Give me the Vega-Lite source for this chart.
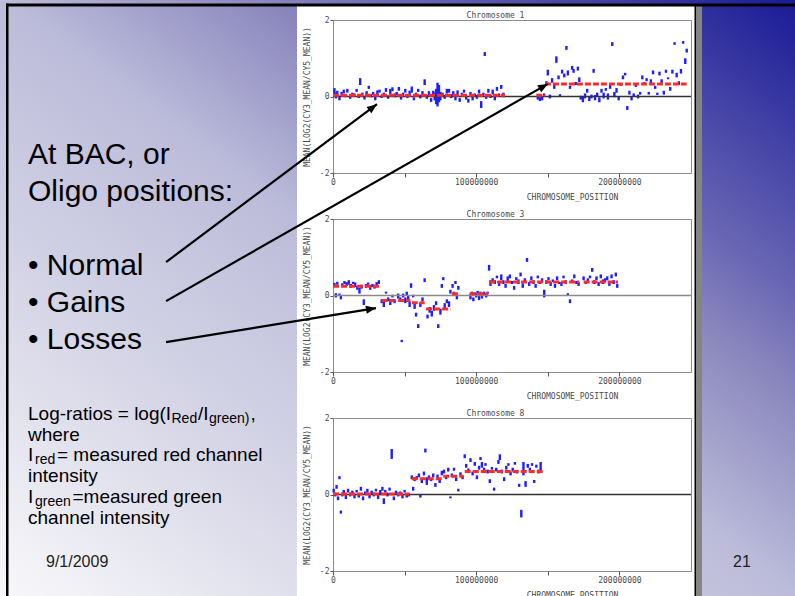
{
  "$schema": "https://vega.github.io/schema/vega-lite/v6.json",
  "background": "white",
  "padding": 0,
  "spacing": 0,
  "bounds": "flush",
  "config": {
    "view": {"stroke": "#8c8c8c", "strokeWidth": 1},
    "axis": {"labelFont": "DejaVu Sans Mono", "labelFontSize": 8, "labelColor": "#4a4a4a", "titleFont": "DejaVu Sans Mono", "titleFontSize": 8, "titleFontWeight": "normal", "titleColor": "#4a4a4a", "domain": false, "grid": false, "tickColor": "#555555", "tickWidth": 1},
    "title": {"font": "DejaVu Sans Mono", "fontSize": 8, "fontWeight": "normal", "color": "#4a4a4a", "offset": 1}
  },
  "datasets": {
    "chr1": [
      {"p":1,"lo":0.05,"hi":0.22},{"p":2,"lo":-0.05,"hi":0.1},{"p":3,"lo":0.0,"hi":0.15},{"p":4.5,"lo":-0.1,"hi":0.02},{"p":6,"lo":0.02,"hi":0.12},
      {"p":7.5,"lo":0.08,"hi":0.18},{"p":9,"lo":-0.02,"hi":0.06},{"p":10,"lo":0.1,"hi":0.2},{"p":12,"lo":-0.06,"hi":0.04},{"p":13.5,"lo":0.04,"hi":0.1},
      {"p":15,"lo":0.0,"hi":0.08},{"p":16.5,"lo":0.12,"hi":0.2},{"p":18,"lo":-0.04,"hi":0.05},{"p":19,"lo":0.3,"hi":0.48},{"p":20.5,"lo":0.02,"hi":0.1},
      {"p":22,"lo":-0.08,"hi":0.02},{"p":23.5,"lo":0.05,"hi":0.14},{"p":25,"lo":0.2,"hi":0.28},{"p":26.5,"lo":-0.02,"hi":0.06},{"p":28,"lo":0.04,"hi":0.12},
      {"p":29.5,"lo":-0.1,"hi":0.0},{"p":31,"lo":0.06,"hi":0.16},{"p":32.5,"lo":0.1,"hi":0.18},{"p":34,"lo":-0.04,"hi":0.04},{"p":35.5,"lo":0.0,"hi":0.1},
      {"p":37,"lo":0.12,"hi":0.22},{"p":38.5,"lo":-0.06,"hi":0.03},{"p":40,"lo":0.05,"hi":0.2},{"p":41.5,"lo":0.14,"hi":0.24},{"p":43,"lo":-0.02,"hi":0.08},
      {"p":44.5,"lo":0.03,"hi":0.12},{"p":46,"lo":0.15,"hi":0.25},{"p":47.5,"lo":-0.08,"hi":0.02},{"p":49,"lo":0.02,"hi":0.1},{"p":50.5,"lo":0.1,"hi":0.2},
      {"p":52,"lo":-0.04,"hi":0.06},{"p":53.5,"lo":0.06,"hi":0.15},{"p":55,"lo":0.1,"hi":0.26},{"p":56.5,"lo":-0.1,"hi":-0.02},{"p":58,"lo":0.0,"hi":0.1},
      {"p":59.5,"lo":0.12,"hi":0.2},{"p":61,"lo":-0.05,"hi":0.05},{"p":62.5,"lo":0.06,"hi":0.14},{"p":64,"lo":0.3,"hi":0.45},{"p":65.5,"lo":-0.06,"hi":0.04},
      {"p":67,"lo":0.02,"hi":0.14},{"p":68.5,"lo":-0.14,"hi":-0.04},{"p":70,"lo":0.05,"hi":0.15},{"p":71,"lo":-0.1,"hi":0.1},{"p":72,"lo":-0.2,"hi":0.2},
      {"p":73,"lo":-0.26,"hi":0.36},{"p":74,"lo":-0.15,"hi":0.3},{"p":75,"lo":-0.1,"hi":0.12},{"p":76.5,"lo":0.0,"hi":0.1},{"p":78,"lo":-0.06,"hi":0.04},
      {"p":79.5,"lo":0.08,"hi":0.2},{"p":81,"lo":0.1,"hi":0.2},{"p":82.5,"lo":-0.04,"hi":0.06},{"p":84,"lo":0.02,"hi":0.14},{"p":85.5,"lo":-0.1,"hi":0.0},
      {"p":87,"lo":0.06,"hi":0.16},{"p":88.5,"lo":-0.14,"hi":-0.04},{"p":90,"lo":0.0,"hi":0.1},{"p":91.5,"lo":0.1,"hi":0.18},{"p":93,"lo":-0.08,"hi":0.02},
      {"p":94.5,"lo":-0.16,"hi":-0.06},{"p":96,"lo":0.04,"hi":0.12},{"p":97.5,"lo":-0.1,"hi":0.02},{"p":99,"lo":0.0,"hi":0.08},{"p":100.5,"lo":-0.06,"hi":0.04},
      {"p":102,"lo":0.08,"hi":0.18},{"p":103.5,"lo":-0.3,"hi":-0.12},{"p":105,"lo":0.02,"hi":0.1},{"p":106,"lo":1.06,"hi":1.16},{"p":107,"lo":-0.06,"hi":0.06},
      {"p":108.5,"lo":0.1,"hi":0.2},{"p":110,"lo":-0.04,"hi":0.04},{"p":111.5,"lo":0.05,"hi":0.18},{"p":113,"lo":-0.1,"hi":0.0},{"p":114.5,"lo":0.15,"hi":0.25},
      {"p":116,"lo":0.02,"hi":0.08},{"p":117.5,"lo":0.2,"hi":0.3},{"p":119,"lo":-0.02,"hi":0.1},
      {"p":143,"lo":-0.08,"hi":0.02},{"p":144.5,"lo":-0.12,"hi":-0.02},{"p":146,"lo":-0.1,"hi":0.0},{"p":147.5,"lo":0.02,"hi":0.08},
      {"p":149,"lo":0.3,"hi":0.4},{"p":150,"lo":0.55,"hi":0.7},{"p":151.5,"lo":-0.05,"hi":0.05},{"p":153,"lo":0.36,"hi":0.48},{"p":154.5,"lo":0.2,"hi":0.3},
      {"p":156,"lo":0.88,"hi":1.05},{"p":157.5,"lo":0.45,"hi":0.55},{"p":158.5,"lo":0.0,"hi":0.06},{"p":160,"lo":0.6,"hi":0.7},{"p":161.5,"lo":0.5,"hi":0.6},
      {"p":163,"lo":1.22,"hi":1.32},{"p":164,"lo":0.55,"hi":0.68},{"p":165.5,"lo":0.2,"hi":0.28},{"p":167,"lo":0.7,"hi":0.8},{"p":168,"lo":0.62,"hi":0.72},
      {"p":169.5,"lo":0.3,"hi":0.38},{"p":171,"lo":0.68,"hi":0.78},{"p":172,"lo":0.38,"hi":0.5},{"p":173,"lo":-0.08,"hi":0.02},{"p":174.5,"lo":-0.15,"hi":0.0},
      {"p":176,"lo":-0.05,"hi":0.08},{"p":177.5,"lo":0.1,"hi":0.2},{"p":179,"lo":-0.12,"hi":0.0},{"p":180.5,"lo":-0.05,"hi":0.05},{"p":182,"lo":0.62,"hi":0.72},
      {"p":183,"lo":-0.1,"hi":0.04},{"p":184.5,"lo":0.0,"hi":0.1},{"p":186,"lo":-0.15,"hi":-0.02},{"p":187.5,"lo":0.1,"hi":0.2},{"p":189,"lo":-0.05,"hi":0.1},
      {"p":190.5,"lo":0.15,"hi":0.22},{"p":192,"lo":-0.08,"hi":0.08},{"p":193.5,"lo":0.2,"hi":0.3},{"p":195,"lo":1.32,"hi":1.42},{"p":196.5,"lo":-0.02,"hi":0.12},
      {"p":198,"lo":0.1,"hi":0.22},{"p":199.5,"lo":-0.1,"hi":0.0},{"p":201,"lo":0.28,"hi":0.35},{"p":202.5,"lo":0.45,"hi":0.55},{"p":204,"lo":0.55,"hi":0.62},
      {"p":205.5,"lo":-0.35,"hi":-0.25},{"p":207,"lo":0.05,"hi":0.15},{"p":208.5,"lo":-0.1,"hi":0.0},{"p":210,"lo":0.0,"hi":0.08},{"p":211.5,"lo":0.25,"hi":0.35},
      {"p":213,"lo":-0.05,"hi":0.05},{"p":214.5,"lo":0.05,"hi":0.12},{"p":216,"lo":0.45,"hi":0.55},{"p":217.5,"lo":0.3,"hi":0.38},{"p":219,"lo":0.4,"hi":0.48},
      {"p":220.5,"lo":0.05,"hi":0.12},{"p":222,"lo":0.35,"hi":0.45},{"p":223.5,"lo":0.58,"hi":0.68},{"p":225,"lo":0.2,"hi":0.28},{"p":226.5,"lo":0.04,"hi":0.1},
      {"p":228,"lo":0.55,"hi":0.65},{"p":229.5,"lo":0.35,"hi":0.45},{"p":231,"lo":0.05,"hi":0.15},{"p":232.5,"lo":0.62,"hi":0.7},{"p":234,"lo":0.45,"hi":0.5},
      {"p":235.5,"lo":0.15,"hi":0.25},{"p":237,"lo":0.6,"hi":0.7},{"p":238.5,"lo":1.35,"hi":1.42},{"p":240,"lo":0.5,"hi":0.62},{"p":241.5,"lo":0.3,"hi":0.4},
      {"p":243,"lo":0.6,"hi":0.72},{"p":244.5,"lo":1.38,"hi":1.45},{"p":246,"lo":0.85,"hi":1.0},{"p":247,"lo":1.15,"hi":1.25}
    ],
    "chr3": [
      {"p":1,"lo":0.25,"hi":0.33},{"p":2,"lo":-0.05,"hi":0.06},{"p":3,"lo":0.28,"hi":0.36},{"p":4.5,"lo":0.0,"hi":0.05},{"p":5.5,"lo":-0.1,"hi":0.0},
      {"p":6.5,"lo":0.22,"hi":0.32},{"p":8,"lo":0.3,"hi":0.38},{"p":9.5,"lo":0.25,"hi":0.35},{"p":11,"lo":0.28,"hi":0.4},{"p":12.5,"lo":0.2,"hi":0.3},
      {"p":14,"lo":0.3,"hi":0.36},{"p":15.5,"lo":0.22,"hi":0.34},{"p":17,"lo":0.15,"hi":0.25},{"p":18.5,"lo":0.05,"hi":0.2},{"p":20,"lo":0.18,"hi":0.28},
      {"p":21.5,"lo":-0.25,"hi":-0.1},{"p":23,"lo":0.2,"hi":0.3},{"p":24.5,"lo":0.28,"hi":0.34},{"p":26,"lo":0.15,"hi":0.25},{"p":27.5,"lo":0.22,"hi":0.3},
      {"p":29,"lo":0.18,"hi":0.28},{"p":30.5,"lo":0.25,"hi":0.35},{"p":32,"lo":0.3,"hi":0.4},
      {"p":34,"lo":-0.2,"hi":-0.1},{"p":35.5,"lo":-0.3,"hi":-0.15},{"p":37,"lo":0.05,"hi":0.1},{"p":38.5,"lo":-0.15,"hi":-0.05},{"p":40,"lo":-0.25,"hi":-0.1},
      {"p":41.5,"lo":-0.05,"hi":0.02},{"p":43,"lo":-0.2,"hi":-0.1},
      {"p":45.5,"lo":-0.08,"hi":0.05},{"p":47,"lo":-0.15,"hi":-0.05},{"p":48,"lo":-1.22,"hi":-1.16},{"p":49,"lo":-0.05,"hi":0.05},{"p":50.5,"lo":-0.2,"hi":-0.05},
      {"p":51.5,"lo":0.0,"hi":0.1},{"p":52.5,"lo":-0.1,"hi":0.0},{"p":53.5,"lo":-0.3,"hi":-0.15},{"p":54.5,"lo":0.2,"hi":0.32},
      {"p":56,"lo":-0.05,"hi":0.02},{"p":57,"lo":-0.35,"hi":-0.2},{"p":58,"lo":-0.55,"hi":-0.45},{"p":59.5,"lo":-0.85,"hi":-0.75},{"p":61,"lo":-0.3,"hi":-0.18},
      {"p":62.5,"lo":-0.15,"hi":-0.05},{"p":64,"lo":0.35,"hi":0.45},
      {"p":66,"lo":-0.6,"hi":-0.5},{"p":67.5,"lo":-0.45,"hi":-0.3},{"p":69,"lo":-0.55,"hi":-0.4},{"p":70.5,"lo":-0.4,"hi":-0.25},{"p":72,"lo":-0.25,"hi":-0.15},
      {"p":73.5,"lo":-0.85,"hi":-0.75},{"p":75,"lo":-0.5,"hi":-0.35},{"p":76,"lo":0.2,"hi":0.3},{"p":77,"lo":0.4,"hi":0.48},{"p":78,"lo":-0.35,"hi":-0.2},
      {"p":79.5,"lo":-0.2,"hi":-0.1},{"p":81,"lo":-0.3,"hi":-0.15},{"p":82,"lo":0.05,"hi":0.15},
      {"p":83.5,"lo":0.2,"hi":0.3},{"p":84.5,"lo":0.0,"hi":0.1},{"p":85.5,"lo":0.3,"hi":0.38},{"p":86.5,"lo":-0.1,"hi":0.0},{"p":87.5,"lo":0.15,"hi":0.25},
      {"p":96,"lo":-0.1,"hi":0.05},{"p":97,"lo":0.02,"hi":0.1},{"p":98,"lo":-0.15,"hi":-0.05},{"p":99,"lo":0.0,"hi":0.08},{"p":100,"lo":-0.05,"hi":0.06},
      {"p":101,"lo":0.05,"hi":0.12},{"p":102,"lo":-0.12,"hi":0.0},{"p":103,"lo":0.0,"hi":0.1},{"p":104,"lo":-0.08,"hi":0.04},{"p":105.5,"lo":0.02,"hi":0.1},
      {"p":107,"lo":-0.05,"hi":0.05},{"p":108,"lo":0.05,"hi":0.1},
      {"p":109,"lo":0.65,"hi":0.8},{"p":110,"lo":0.25,"hi":0.4},{"p":111.5,"lo":0.35,"hi":0.45},{"p":113,"lo":0.3,"hi":0.4},{"p":114.5,"lo":0.45,"hi":0.52},
      {"p":116,"lo":0.25,"hi":0.35},{"p":117.5,"lo":0.4,"hi":0.55},{"p":119,"lo":0.3,"hi":0.4},{"p":120.5,"lo":0.2,"hi":0.3},{"p":122,"lo":0.35,"hi":0.5},
      {"p":123.5,"lo":0.45,"hi":0.55},{"p":125,"lo":0.3,"hi":0.38},{"p":126.5,"lo":0.15,"hi":0.25},{"p":128,"lo":0.4,"hi":0.48},{"p":129.5,"lo":0.3,"hi":0.42},
      {"p":131,"lo":0.5,"hi":0.6},{"p":132.5,"lo":0.2,"hi":0.32},{"p":134,"lo":0.35,"hi":0.45},{"p":135.5,"lo":0.88,"hi":0.98},{"p":137,"lo":0.25,"hi":0.35},
      {"p":138.5,"lo":0.4,"hi":0.5},{"p":140,"lo":0.3,"hi":0.4},{"p":141.5,"lo":0.2,"hi":0.3},{"p":143,"lo":0.45,"hi":0.52},{"p":144.5,"lo":0.3,"hi":0.36},
      {"p":146,"lo":0.35,"hi":0.45},{"p":147.5,"lo":-0.05,"hi":0.15},{"p":149,"lo":0.3,"hi":0.4},{"p":150.5,"lo":0.4,"hi":0.48},{"p":152,"lo":0.25,"hi":0.35},
      {"p":153.5,"lo":0.35,"hi":0.42},{"p":155,"lo":0.2,"hi":0.3},{"p":156.5,"lo":0.4,"hi":0.5},{"p":158,"lo":0.3,"hi":0.36},{"p":159.5,"lo":0.25,"hi":0.35},
      {"p":161,"lo":0.45,"hi":0.52},{"p":162.5,"lo":0.3,"hi":0.4},{"p":164,"lo":0.0,"hi":0.06},{"p":165.5,"lo":-0.2,"hi":-0.1},{"p":167,"lo":0.35,"hi":0.42},
      {"p":168.5,"lo":0.45,"hi":0.55},{"p":170,"lo":0.3,"hi":0.38},{"p":171.5,"lo":0.25,"hi":0.35},
      {"p":175,"lo":0.4,"hi":0.5},{"p":176.5,"lo":0.3,"hi":0.38},{"p":178,"lo":0.35,"hi":0.45},{"p":179.5,"lo":0.45,"hi":0.52},{"p":181,"lo":0.62,"hi":0.72},
      {"p":182.5,"lo":0.3,"hi":0.4},{"p":184,"lo":0.4,"hi":0.5},{"p":185.5,"lo":0.25,"hi":0.35},{"p":187,"lo":0.45,"hi":0.55},{"p":188.5,"lo":0.3,"hi":0.42},
      {"p":190,"lo":0.35,"hi":0.45},{"p":191.5,"lo":0.4,"hi":0.5},{"p":193,"lo":0.25,"hi":0.35},{"p":194.5,"lo":0.45,"hi":0.55},{"p":196,"lo":0.3,"hi":0.4},
      {"p":197.5,"lo":0.5,"hi":0.6},{"p":198.5,"lo":0.2,"hi":0.3}
    ],
    "chr8": [
      {"p":0.5,"lo":0.05,"hi":0.15},{"p":1.5,"lo":-0.05,"hi":0.05},{"p":2.5,"lo":0.15,"hi":0.25},{"p":3.5,"lo":-0.15,"hi":-0.05},{"p":4.5,"lo":0.4,"hi":0.48},
      {"p":5.5,"lo":-0.5,"hi":-0.42},{"p":6.5,"lo":-0.05,"hi":0.05},{"p":7.5,"lo":0.02,"hi":0.12},{"p":9,"lo":-0.12,"hi":0.0},{"p":10.5,"lo":0.05,"hi":0.15},
      {"p":12,"lo":-0.05,"hi":0.05},{"p":13.5,"lo":0.0,"hi":0.1},{"p":15,"lo":-0.1,"hi":0.02},{"p":16.5,"lo":0.05,"hi":0.12},{"p":18,"lo":-0.08,"hi":0.02},
      {"p":19.5,"lo":0.1,"hi":0.2},{"p":21,"lo":-0.15,"hi":-0.05},{"p":22.5,"lo":0.0,"hi":0.08},{"p":24,"lo":0.05,"hi":0.15},{"p":25.5,"lo":-0.1,"hi":0.0},
      {"p":27,"lo":0.02,"hi":0.1},{"p":28.5,"lo":-0.05,"hi":0.05},{"p":30,"lo":0.08,"hi":0.15},{"p":31.5,"lo":-0.12,"hi":0.0},{"p":33,"lo":0.0,"hi":0.12},
      {"p":34.5,"lo":0.1,"hi":0.2},{"p":35.5,"lo":-0.25,"hi":-0.1},{"p":36.5,"lo":0.05,"hi":0.12},{"p":38,"lo":-0.05,"hi":0.05},{"p":39.5,"lo":0.1,"hi":0.18},
      {"p":41,"lo":0.93,"hi":1.19},{"p":42.5,"lo":-0.15,"hi":-0.05},{"p":44,"lo":0.02,"hi":0.1},{"p":45.5,"lo":-0.05,"hi":0.05},{"p":47,"lo":0.0,"hi":0.08},
      {"p":48.5,"lo":-0.1,"hi":0.0},{"p":50,"lo":0.05,"hi":0.12},{"p":51.5,"lo":-0.08,"hi":0.02},{"p":53,"lo":-0.05,"hi":0.04},
      {"p":55,"lo":0.4,"hi":0.5},{"p":56,"lo":0.1,"hi":0.2},{"p":57,"lo":0.35,"hi":0.45},{"p":58.5,"lo":0.4,"hi":0.48},{"p":60,"lo":0.45,"hi":0.55},
      {"p":61,"lo":-0.08,"hi":0.0},{"p":62,"lo":0.3,"hi":0.42},{"p":63.5,"lo":0.5,"hi":0.6},{"p":64.5,"lo":1.1,"hi":1.2},{"p":65.5,"lo":0.25,"hi":0.45},
      {"p":67,"lo":0.4,"hi":0.5},{"p":68.5,"lo":0.35,"hi":0.42},{"p":70,"lo":0.45,"hi":0.55},{"p":71.5,"lo":0.2,"hi":0.3},{"p":73,"lo":0.4,"hi":0.52},
      {"p":74.5,"lo":0.3,"hi":0.4},{"p":76,"lo":0.5,"hi":0.62},
      {"p":77.5,"lo":0.55,"hi":0.65},{"p":79,"lo":0.4,"hi":0.5},{"p":80.5,"lo":0.6,"hi":0.7},{"p":82,"lo":-0.1,"hi":-0.05},{"p":83,"lo":0.45,"hi":0.55},
      {"p":84.5,"lo":0.62,"hi":0.7},{"p":86,"lo":0.35,"hi":0.45},{"p":87.5,"lo":0.08,"hi":0.15},{"p":89,"lo":0.5,"hi":0.58},{"p":90.5,"lo":0.4,"hi":0.5},
      {"p":92,"lo":0.95,"hi":1.05},{"p":93,"lo":0.7,"hi":0.8},{"p":94.5,"lo":0.6,"hi":0.68},{"p":96,"lo":0.85,"hi":0.95},{"p":97.5,"lo":0.5,"hi":0.6},
      {"p":99,"lo":0.75,"hi":0.85},{"p":100.5,"lo":0.4,"hi":0.5},{"p":102,"lo":0.65,"hi":0.75},{"p":103,"lo":0.9,"hi":0.98},{"p":104,"lo":0.7,"hi":0.85},
      {"p":105.5,"lo":0.6,"hi":0.7},{"p":106.5,"lo":0.75,"hi":0.82},{"p":108,"lo":0.55,"hi":0.65},{"p":109.5,"lo":0.3,"hi":0.4},{"p":111,"lo":0.65,"hi":0.72},
      {"p":112.5,"lo":0.1,"hi":0.18},{"p":114,"lo":0.6,"hi":0.7},{"p":115.5,"lo":0.8,"hi":0.9},{"p":116.5,"lo":0.9,"hi":1.05},{"p":118,"lo":0.55,"hi":0.65},
      {"p":119.5,"lo":0.35,"hi":0.45},{"p":121,"lo":0.65,"hi":0.75},{"p":122.5,"lo":0.75,"hi":0.82},{"p":124,"lo":0.5,"hi":0.6},{"p":125.5,"lo":0.6,"hi":0.7},
      {"p":127,"lo":0.78,"hi":0.85},{"p":128.5,"lo":0.55,"hi":0.62},{"p":130,"lo":0.2,"hi":0.28},{"p":131.5,"lo":-0.6,"hi":-0.4},{"p":133,"lo":0.5,"hi":0.85},
      {"p":134.5,"lo":0.2,"hi":0.35},{"p":136,"lo":0.7,"hi":0.8},{"p":137.5,"lo":0.6,"hi":0.7},{"p":139,"lo":0.75,"hi":0.82},{"p":140.5,"lo":0.3,"hi":0.38},
      {"p":142,"lo":0.7,"hi":0.78},{"p":143.5,"lo":0.55,"hi":0.65},{"p":145,"lo":0.6,"hi":0.85}
    ],
    "seg1": [{"s":0,"e":120,"m":0.03},{"s":142,"e":148,"m":0.03},{"s":148,"e":247,"m":0.33}],
    "seg3": [{"s":0,"e":33,"m":0.245},{"s":34,"e":43,"m":-0.13},{"s":45.5,"e":54,"m":-0.13},{"s":55,"e":64,"m":-0.19},{"s":65,"e":82,"m":-0.35},{"s":83,"e":87.5,"m":0.045},{"s":95.5,"e":108.5,"m":0.045},{"s":109,"e":172,"m":0.35},{"s":175,"e":199,"m":0.35}],
    "seg8": [{"s":0,"e":53.5,"m":0.01},{"s":55,"e":76,"m":0.41},{"s":77,"e":91,"m":0.48},{"s":92,"e":147,"m":0.6}],
    "arrows": [
      {"chr":1,"label":"Normal","p0":-116.6,"v0":-4.33,"p":30.7,"v":-0.2},
      {"chr":1,"label":"Gains","p0":-116.6,"v0":-5.35,"p":150.1,"v":0.33},
      {"chr":3,"label":"Losses","p0":-116.6,"v0":-1.22,"p":30.0,"v":-0.33}
    ]
  },
  "hconcat": [
    {
      "width": 333,
      "height": 576,
      "view": {"stroke": null},
      "data": {"values": [{}]},
      "layer": [
        {"mark": {"type": "rect", "color": {"gradient": "linear", "x1": 1, "y1": 0, "x2": 0, "y2": 1, "stops": [{"offset": 0, "color": "#1a1a96"}, {"offset": 0.25, "color": "#6a68b4"}, {"offset": 0.33, "color": "#8a86bd"}, {"offset": 0.5, "color": "#bcbcda"}, {"offset": 0.75, "color": "#d8d8e8"}, {"offset": 1, "color": "#f8f8fa"}]}},
         "encoding": {"x": {"datum": 0, "type": "quantitative", "scale": {"domain": [0, 333], "nice": false, "zero": false}, "axis": null}, "x2": {"datum": 795},
                      "y": {"datum": 0, "type": "quantitative", "scale": {"domain": [20, 596], "reverse": true, "nice": false, "zero": false}, "axis": null}, "y2": {"datum": 596}}},
        {"mark": {"type": "rect", "color": "white"},
         "encoding": {"x": {"datum": 297, "type": "quantitative", "scale": {"domain": [0, 333], "nice": false, "zero": false}, "axis": null}, "x2": {"datum": 695},
                      "y": {"datum": 6, "type": "quantitative", "scale": {"domain": [20, 596], "reverse": true, "nice": false, "zero": false}, "axis": null}, "y2": {"datum": 596}}},
        {"mark": {"type": "rect", "color": "#858585"},
         "encoding": {"x": {"datum": 696, "type": "quantitative", "scale": {"domain": [0, 333], "nice": false, "zero": false}, "axis": null}, "x2": {"datum": 702},
                      "y": {"datum": 6, "type": "quantitative", "scale": {"domain": [20, 596], "reverse": true, "nice": false, "zero": false}, "axis": null}, "y2": {"datum": 596}}},
        {"mark": {"type": "rect", "color": "black"},
         "encoding": {"x": {"datum": 694.5, "type": "quantitative", "scale": {"domain": [0, 333], "nice": false, "zero": false}, "axis": null}, "x2": {"datum": 696},
                      "y": {"datum": 4, "type": "quantitative", "scale": {"domain": [20, 596], "reverse": true, "nice": false, "zero": false}, "axis": null}, "y2": {"datum": 596}}},
        {"mark": {"type": "rect", "color": "black"},
         "encoding": {"x": {"datum": 6, "type": "quantitative", "scale": {"domain": [0, 333], "nice": false, "zero": false}, "axis": null}, "x2": {"datum": 795},
                      "y": {"datum": 3.5, "type": "quantitative", "scale": {"domain": [20, 596], "reverse": true, "nice": false, "zero": false}, "axis": null}, "y2": {"datum": 6.5}}},
        {"mark": {"type": "rect", "color": "black"},
         "encoding": {"x": {"datum": 6, "type": "quantitative", "scale": {"domain": [0, 333], "nice": false, "zero": false}, "axis": null}, "x2": {"datum": 8.5},
                      "y": {"datum": 3.5, "type": "quantitative", "scale": {"domain": [20, 596], "reverse": true, "nice": false, "zero": false}, "axis": null}, "y2": {"datum": 596}}},
        {"mark": {"type": "text", "align": "left", "baseline": "alphabetic", "font": "Liberation Sans", "fontSize": 30, "lineHeight": 37, "color": "black",
                  "text": ["At BAC, or", "Oligo positions:"]},
         "encoding": {"x": {"datum": 28, "type": "quantitative", "scale": {"domain": [0, 333], "nice": false, "zero": false}, "axis": null},
                      "y": {"datum": 164, "type": "quantitative", "scale": {"domain": [20, 596], "reverse": true, "nice": false, "zero": false}, "axis": null}}},
        {"mark": {"type": "text", "align": "left", "baseline": "alphabetic", "font": "Liberation Sans", "fontSize": 30, "lineHeight": 37, "color": "black",
                  "text": ["• Normal", "• Gains", "• Losses"]},
         "encoding": {"x": {"datum": 28, "type": "quantitative", "scale": {"domain": [0, 333], "nice": false, "zero": false}, "axis": null},
                      "y": {"datum": 275, "type": "quantitative", "scale": {"domain": [20, 596], "reverse": true, "nice": false, "zero": false}, "axis": null}}},
        {"mark": {"type": "text", "align": "left", "baseline": "alphabetic", "font": "Liberation Sans", "fontSize": 19, "color": "black", "text": "Log-ratios = log(I"},
         "encoding": {"x": {"datum": 28, "type": "quantitative", "scale": {"domain": [0, 333], "nice": false, "zero": false}, "axis": null},
                      "y": {"datum": 420, "type": "quantitative", "scale": {"domain": [20, 596], "reverse": true, "nice": false, "zero": false}, "axis": null}}},
        {"mark": {"type": "text", "align": "left", "baseline": "alphabetic", "font": "Liberation Sans", "fontSize": 19, "color": "black", "text": "where"},
         "encoding": {"x": {"datum": 28, "type": "quantitative", "scale": {"domain": [0, 333], "nice": false, "zero": false}, "axis": null},
                      "y": {"datum": 440.7, "type": "quantitative", "scale": {"domain": [20, 596], "reverse": true, "nice": false, "zero": false}, "axis": null}}},
        {"mark": {"type": "text", "align": "left", "baseline": "alphabetic", "font": "Liberation Sans", "fontSize": 19, "color": "black", "text": "I"},
         "encoding": {"x": {"datum": 28, "type": "quantitative", "scale": {"domain": [0, 333], "nice": false, "zero": false}, "axis": null},
                      "y": {"datum": 461.4, "type": "quantitative", "scale": {"domain": [20, 596], "reverse": true, "nice": false, "zero": false}, "axis": null}}},
        {"mark": {"type": "text", "align": "left", "baseline": "alphabetic", "font": "Liberation Sans", "fontSize": 19, "color": "black", "text": "intensity"},
         "encoding": {"x": {"datum": 28, "type": "quantitative", "scale": {"domain": [0, 333], "nice": false, "zero": false}, "axis": null},
                      "y": {"datum": 482.1, "type": "quantitative", "scale": {"domain": [20, 596], "reverse": true, "nice": false, "zero": false}, "axis": null}}},
        {"mark": {"type": "text", "align": "left", "baseline": "alphabetic", "font": "Liberation Sans", "fontSize": 19, "color": "black", "text": "I"},
         "encoding": {"x": {"datum": 28, "type": "quantitative", "scale": {"domain": [0, 333], "nice": false, "zero": false}, "axis": null},
                      "y": {"datum": 502.8, "type": "quantitative", "scale": {"domain": [20, 596], "reverse": true, "nice": false, "zero": false}, "axis": null}}},
        {"mark": {"type": "text", "align": "left", "baseline": "alphabetic", "font": "Liberation Sans", "fontSize": 19, "color": "black", "text": "channel intensity"},
         "encoding": {"x": {"datum": 28, "type": "quantitative", "scale": {"domain": [0, 333], "nice": false, "zero": false}, "axis": null},
                      "y": {"datum": 523.5, "type": "quantitative", "scale": {"domain": [20, 596], "reverse": true, "nice": false, "zero": false}, "axis": null}}},
        {"mark": {"type": "text", "align": "left", "baseline": "alphabetic", "font": "Liberation Sans", "fontSize": 14, "color": "black", "text": "Red"},
         "encoding": {"x": {"datum": 171.5, "type": "quantitative", "scale": {"domain": [0, 333], "nice": false, "zero": false}, "axis": null},
                      "y": {"datum": 423, "type": "quantitative", "scale": {"domain": [20, 596], "reverse": true, "nice": false, "zero": false}, "axis": null}}},
        {"mark": {"type": "text", "align": "left", "baseline": "alphabetic", "font": "Liberation Sans", "fontSize": 19, "color": "black", "text": "/I"},
         "encoding": {"x": {"datum": 198, "type": "quantitative", "scale": {"domain": [0, 333], "nice": false, "zero": false}, "axis": null},
                      "y": {"datum": 420, "type": "quantitative", "scale": {"domain": [20, 596], "reverse": true, "nice": false, "zero": false}, "axis": null}}},
        {"mark": {"type": "text", "align": "left", "baseline": "alphabetic", "font": "Liberation Sans", "fontSize": 14, "color": "black", "text": "green)"},
         "encoding": {"x": {"datum": 209, "type": "quantitative", "scale": {"domain": [0, 333], "nice": false, "zero": false}, "axis": null},
                      "y": {"datum": 423, "type": "quantitative", "scale": {"domain": [20, 596], "reverse": true, "nice": false, "zero": false}, "axis": null}}},
        {"mark": {"type": "text", "align": "left", "baseline": "alphabetic", "font": "Liberation Sans", "fontSize": 19, "color": "black", "text": ","},
         "encoding": {"x": {"datum": 250.5, "type": "quantitative", "scale": {"domain": [0, 333], "nice": false, "zero": false}, "axis": null},
                      "y": {"datum": 420, "type": "quantitative", "scale": {"domain": [20, 596], "reverse": true, "nice": false, "zero": false}, "axis": null}}},
        {"mark": {"type": "text", "align": "left", "baseline": "alphabetic", "font": "Liberation Sans", "fontSize": 14, "color": "black", "text": "red"},
         "encoding": {"x": {"datum": 35, "type": "quantitative", "scale": {"domain": [0, 333], "nice": false, "zero": false}, "axis": null},
                      "y": {"datum": 464.4, "type": "quantitative", "scale": {"domain": [20, 596], "reverse": true, "nice": false, "zero": false}, "axis": null}}},
        {"mark": {"type": "text", "align": "left", "baseline": "alphabetic", "font": "Liberation Sans", "fontSize": 19, "color": "black", "text": "= measured red channel"},
         "encoding": {"x": {"datum": 57, "type": "quantitative", "scale": {"domain": [0, 333], "nice": false, "zero": false}, "axis": null},
                      "y": {"datum": 461.4, "type": "quantitative", "scale": {"domain": [20, 596], "reverse": true, "nice": false, "zero": false}, "axis": null}}},
        {"mark": {"type": "text", "align": "left", "baseline": "alphabetic", "font": "Liberation Sans", "fontSize": 14, "color": "black", "text": "green"},
         "encoding": {"x": {"datum": 35, "type": "quantitative", "scale": {"domain": [0, 333], "nice": false, "zero": false}, "axis": null},
                      "y": {"datum": 505.8, "type": "quantitative", "scale": {"domain": [20, 596], "reverse": true, "nice": false, "zero": false}, "axis": null}}},
        {"mark": {"type": "text", "align": "left", "baseline": "alphabetic", "font": "Liberation Sans", "fontSize": 19, "color": "black", "text": "=measured green"},
         "encoding": {"x": {"datum": 72.5, "type": "quantitative", "scale": {"domain": [0, 333], "nice": false, "zero": false}, "axis": null},
                      "y": {"datum": 502.8, "type": "quantitative", "scale": {"domain": [20, 596], "reverse": true, "nice": false, "zero": false}, "axis": null}}},
        {"mark": {"type": "text", "align": "left", "baseline": "alphabetic", "font": "Liberation Sans", "fontSize": 16, "color": "#222222", "text": "9/1/2009"},
         "encoding": {"x": {"datum": 46, "type": "quantitative", "scale": {"domain": [0, 333], "nice": false, "zero": false}, "axis": null},
                      "y": {"datum": 567, "type": "quantitative", "scale": {"domain": [20, 596], "reverse": true, "nice": false, "zero": false}, "axis": null}}},
        {"mark": {"type": "text", "align": "left", "baseline": "alphabetic", "font": "Liberation Sans", "fontSize": 16, "color": "#222222", "text": "21"},
         "encoding": {"x": {"datum": 733, "type": "quantitative", "scale": {"domain": [0, 333], "nice": false, "zero": false}, "axis": null},
                      "y": {"datum": 567, "type": "quantitative", "scale": {"domain": [20, 596], "reverse": true, "nice": false, "zero": false}, "axis": null}}}
      ]
    },
    {
      "spacing": 46,
      "bounds": "flush",
      "vconcat": [
        {
          "width": 358, "height": 153,
          "title": {"text": "Chromosome 1", "dx": -16.5, "dy": 5},
          "layer": [
            {"data": {"name": "chr1"}, "mark": {"type": "rule", "color": "#1e1eff", "strokeWidth": 2.4},
             "encoding": {
               "x": {"field": "p", "type": "quantitative", "scale": {"domain": [0, 250], "nice": false, "zero": false},
                     "axis": {"title": "CHROMOSOME_POSITION", "values": [0, 50, 100, 150, 200], "labelExpr": "datum.value == 0 ? '0' : (datum.value % 100 == 0 ? datum.value + '000000' : '')", "labelFlush": false, "labelOverlap": false, "tickSize": 4, "labelPadding": 1, "titlePadding": 7, "titleX": 239}},
               "y": {"field": "lo", "type": "quantitative", "scale": {"domain": [-2, 2], "nice": false, "zero": false},
                     "axis": {"title": "MEAN(LOG2(CY3_MEAN/CY5_MEAN))", "values": [-2, -1, 0, 1, 2], "labelExpr": "datum.value + ''", "tickSize": 3, "labelPadding": 1, "titlePadding": 8}},
               "y2": {"field": "hi"}}},
            {"data": {"values": [{}]}, "mark": {"type": "rule", "color": "#333333", "strokeWidth": 1.5},
             "encoding": {"x": {"datum": 0, "type": "quantitative"}, "x2": {"datum": 250}, "y": {"datum": 0, "type": "quantitative"}}},
            {"data": {"name": "seg1"}, "mark": {"type": "rule", "color": "#ff2a2a", "strokeWidth": 3, "strokeDash": [6, 2]},
             "encoding": {"x": {"field": "s", "type": "quantitative"}, "x2": {"field": "e"}, "y": {"field": "m", "type": "quantitative"}}},
            {"data": {"name": "arrows"}, "transform": [{"filter": "datum.chr == 1"}], "mark": {"type": "rule", "color": "black", "strokeWidth": 2.2, "clip": false},
             "encoding": {"x": {"field": "p0", "type": "quantitative"}, "x2": {"field": "p"}, "y": {"field": "v0", "type": "quantitative"}, "y2": {"field": "v"}}},
            {"data": {"name": "arrows"}, "transform": [{"filter": "datum.label == 'Normal'"}], "mark": {"type": "point", "shape": "M0,0L-0.8,2L0.8,2Z", "size": 100, "filled": true, "color": "black", "opacity": 1, "angle": 53.2, "clip": false},
             "encoding": {"x": {"field": "p", "type": "quantitative"}, "y": {"field": "v", "type": "quantitative"}}},
            {"data": {"name": "arrows"}, "transform": [{"filter": "datum.label == 'Gains'"}], "mark": {"type": "point", "shape": "M0,0L-0.8,2L0.8,2Z", "size": 100, "filled": true, "color": "black", "opacity": 1, "angle": 60.4, "clip": false},
             "encoding": {"x": {"field": "p", "type": "quantitative"}, "y": {"field": "v", "type": "quantitative"}}}
          ]
        },
        {
          "width": 358, "height": 153,
          "title": {"text": "Chromosome 3", "dx": -16.5, "dy": 5},
          "layer": [
            {"data": {"name": "chr3"}, "mark": {"type": "rule", "color": "#1e1eff", "strokeWidth": 2.4},
             "encoding": {
               "x": {"field": "p", "type": "quantitative", "scale": {"domain": [0, 250], "nice": false, "zero": false},
                     "axis": {"title": "CHROMOSOME_POSITION", "values": [0, 50, 100, 150, 200], "labelExpr": "datum.value == 0 ? '0' : (datum.value % 100 == 0 ? datum.value + '000000' : '')", "labelFlush": false, "labelOverlap": false, "tickSize": 4, "labelPadding": 1, "titlePadding": 7, "titleX": 239}},
               "y": {"field": "lo", "type": "quantitative", "scale": {"domain": [-2, 2], "nice": false, "zero": false},
                     "axis": {"title": "MEAN(LOG2(CY3_MEAN/CY5_MEAN))", "values": [-2, -1, 0, 1, 2], "labelExpr": "datum.value + ''", "tickSize": 3, "labelPadding": 1, "titlePadding": 8}},
               "y2": {"field": "hi"}}},
            {"data": {"values": [{}]}, "mark": {"type": "rule", "color": "#8a8a8a", "strokeWidth": 1.5},
             "encoding": {"x": {"datum": 0, "type": "quantitative"}, "x2": {"datum": 250}, "y": {"datum": 0, "type": "quantitative"}}},
            {"data": {"name": "seg3"}, "mark": {"type": "rule", "color": "#ff2a2a", "strokeWidth": 3, "strokeDash": [6, 2]},
             "encoding": {"x": {"field": "s", "type": "quantitative"}, "x2": {"field": "e"}, "y": {"field": "m", "type": "quantitative"}}},
            {"data": {"name": "arrows"}, "transform": [{"filter": "datum.chr == 3"}], "mark": {"type": "rule", "color": "black", "strokeWidth": 2.2, "clip": false},
             "encoding": {"x": {"field": "p0", "type": "quantitative"}, "x2": {"field": "p"}, "y": {"field": "v0", "type": "quantitative"}, "y2": {"field": "v"}}},
            {"data": {"name": "arrows"}, "transform": [{"filter": "datum.label == 'Losses'"}], "mark": {"type": "point", "shape": "M0,0L-0.8,2L0.8,2Z", "size": 100, "filled": true, "color": "black", "opacity": 1, "angle": 80.8, "clip": false},
             "encoding": {"x": {"field": "p", "type": "quantitative"}, "y": {"field": "v", "type": "quantitative"}}}
          ]
        },
        {
          "width": 358, "height": 153,
          "title": {"text": "Chromosome 8", "dx": -16.5, "dy": 5},
          "layer": [
            {"data": {"name": "chr8"}, "mark": {"type": "rule", "color": "#1e1eff", "strokeWidth": 2.4},
             "encoding": {
               "x": {"field": "p", "type": "quantitative", "scale": {"domain": [0, 250], "nice": false, "zero": false},
                     "axis": {"title": "CHROMOSOME_POSITION", "values": [0, 50, 100, 150, 200], "labelExpr": "datum.value == 0 ? '0' : (datum.value % 100 == 0 ? datum.value + '000000' : '')", "labelFlush": false, "labelOverlap": false, "tickSize": 4, "labelPadding": 1, "titlePadding": 7, "titleX": 239}},
               "y": {"field": "lo", "type": "quantitative", "scale": {"domain": [-2, 2], "nice": false, "zero": false},
                     "axis": {"title": "MEAN(LOG2(CY3_MEAN/CY5_MEAN))", "values": [-2, -1, 0, 1, 2], "labelExpr": "datum.value + ''", "tickSize": 3, "labelPadding": 1, "titlePadding": 8}},
               "y2": {"field": "hi"}}},
            {"data": {"values": [{}]}, "mark": {"type": "rule", "color": "#333333", "strokeWidth": 1.5},
             "encoding": {"x": {"datum": 0, "type": "quantitative"}, "x2": {"datum": 250}, "y": {"datum": 0, "type": "quantitative"}}},
            {"data": {"name": "seg8"}, "mark": {"type": "rule", "color": "#ff2a2a", "strokeWidth": 3, "strokeDash": [6, 2]},
             "encoding": {"x": {"field": "s", "type": "quantitative"}, "x2": {"field": "e"}, "y": {"field": "m", "type": "quantitative"}}}
          ]
        }
      ]
    }
  ]
}
